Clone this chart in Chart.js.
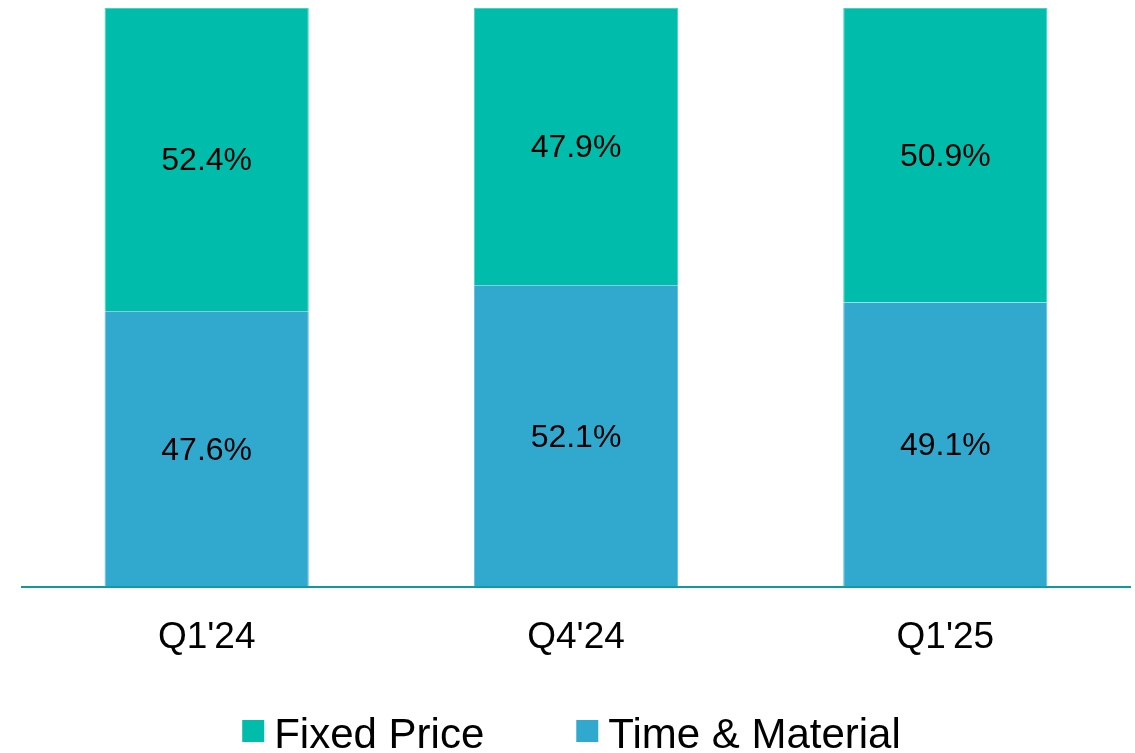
<!DOCTYPE html>
<html>
<head>
<meta charset="utf-8">
<script src="https://cdn.jsdelivr.net/npm/chart.js@4"></script>
<style>
html,body{margin:0;padding:0;background:#fff;}
#wrap{width:1135px;height:753px;position:relative;}
</style>
</head>
<body>
<div id="wrap"><canvas id="c" width="1135" height="753"></canvas></div>
<script>
const categories = ["Q1'24", "Q4'24", "Q1'25"];
const timeMaterial = [47.6, 52.1, 49.1];
const fixedPrice = [52.4, 47.9, 50.9];
const seriesNames = ["Time & Material", "Fixed Price"];

const FONT = "Liberation Sans, Arial, sans-serif";

const valueLabels = {
  id: 'valueLabels',
  afterDatasetsDraw(chart) {
    const ctx = chart.ctx;
    ctx.save();
    ctx.font = '32px ' + FONT;
    ctx.fillStyle = '#000';
    ctx.textAlign = 'center';
    ctx.textBaseline = 'middle';
    chart.data.datasets.forEach((ds, i) => {
      const meta = chart.getDatasetMeta(i);
      meta.data.forEach((bar, j) => {
        const mid = (bar.y + bar.base) / 2;
        ctx.fillText(ds.data[j].toFixed(1) + '%', bar.x, mid + 2);
      });
    });
    ctx.restore();
  }
};

const customLegend = {
  id: 'customLegend',
  afterDraw(chart) {
    const ctx = chart.ctx;
    ctx.save();
    ctx.font = '42px ' + FONT;
    ctx.textBaseline = 'alphabetic';
    ctx.textAlign = 'left';
    const items = chart.data.datasets.slice().reverse();
    const box = 22, gapText = 10, gapItem = 92;
    const widths = items.map(d => ctx.measureText(d.label).width);
    let total = 0;
    widths.forEach((w, i) => { total += box + gapText + w + (i < widths.length - 1 ? gapItem : 0); });
    let x = chart.width / 2 + 4 - total / 2;
    const baseline = 748;
    items.forEach((d, i) => {
      ctx.fillStyle = d.backgroundColor;
      ctx.fillRect(x, baseline - 28, box, box);
      ctx.fillStyle = '#000';
      ctx.fillText(d.label, x + box + gapText, baseline);
      x += box + gapText + widths[i] + gapItem;
    });
    ctx.restore();
  }
};

new Chart(document.getElementById('c'), {
  type: 'bar',
  data: {
    labels: categories,
    datasets: [
      { label: seriesNames[0], data: timeMaterial, backgroundColor: '#31A9CE', borderColor: '#5CC0DC', borderWidth: {left:1,right:1,top:0,bottom:0}, barPercentage: 0.553, categoryPercentage: 1 },
      { label: seriesNames[1], data: fixedPrice, backgroundColor: '#00BDAB', borderColor: '#3FD6C6', borderWidth: {left:1,right:1,top:1,bottom:0}, barPercentage: 0.553, categoryPercentage: 1 }
    ]
  },
  options: {
    responsive: false,
    animation: false,
    devicePixelRatio: 1,
    layout: { padding: { top: 8, left: 22, right: 5, bottom: 72 } },
    scales: {
      x: {
        stacked: true,
        grid: { display: false },
        border: { display: true, color: '#0E9A9A', width: 2 },
        ticks: { color: '#000', font: { family: FONT, size: 37 }, padding: 21 }
      },
      y: {
        stacked: true,
        display: false,
        min: 0, max: 100
      }
    },
    plugins: {
      tooltip: { enabled: false },
      legend: { display: false }
    }
  },
  plugins: [valueLabels, customLegend]
});
</script>
</body>
</html>
